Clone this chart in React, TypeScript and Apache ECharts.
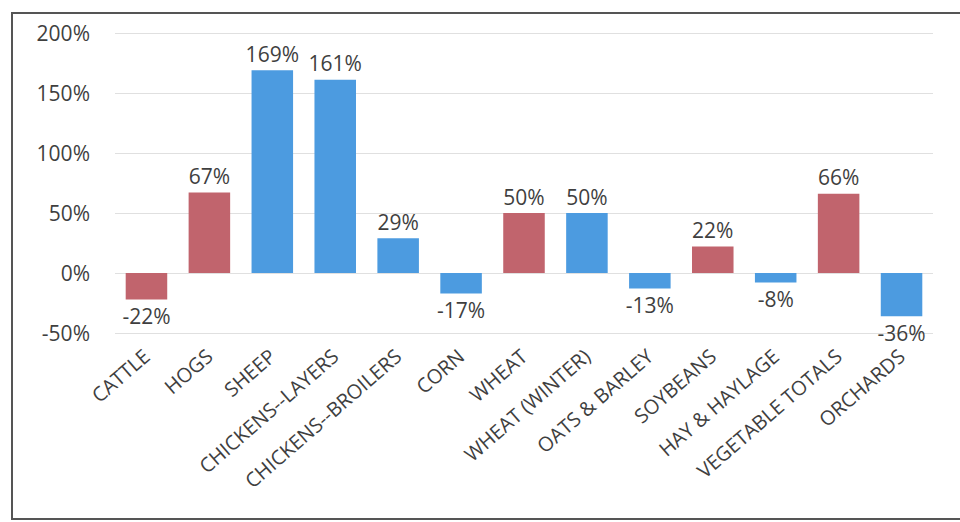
import React, { useEffect, useRef } from "react";
import * as echarts from "echarts";

const categories = [
  "CATTLE",
  "HOGS",
  "SHEEP",
  "CHICKENS--LAYERS",
  "CHICKENS--BROILERS",
  "CORN",
  "WHEAT",
  "WHEAT (WINTER)",
  "OATS & BARLEY",
  "SOYBEANS",
  "HAY & HAYLAGE",
  "VEGETABLE TOTALS",
  "ORCHARDS",
];
const values = [-22, 67, 169, 161, 29, -17, 50, 50, -13, 22, -8, 66, -36];
const groups = ["red", "red", "blue", "blue", "blue", "blue", "red", "blue", "blue", "red", "blue", "red", "blue"];
const yTicks = { min: -50, max: 200, interval: 50 };

const RED = "#c1646d";
const BLUE = "#4c9be0";
const TEXT = "#3f3f3f";
const FONT = "Open Sans";

export default function App() {
  const ref = useRef<HTMLDivElement>(null);
  useEffect(() => {
    if (!ref.current) return;
    const chart = echarts.init(ref.current, null, { renderer: "svg" });
    chart.setOption({
      animation: false,
      backgroundColor: "#ffffff",
      graphic: [
        {
          type: "rect",
          shape: { x: 12, y: 13, width: 970, height: 506 },
          style: { fill: "none", stroke: "#555", lineWidth: 2 },
          silent: true,
        },
      ],
      grid: { left: 115, right: 27, top: 33, bottom: 189, containLabel: false },
      xAxis: {
        type: "category",
        data: categories,
        position: "bottom",
        axisLine: { show: false, onZero: false },
        axisTick: { show: false },
        axisLabel: {
          rotate: 41,
          interval: 0,
          margin: 20,
          fontFamily: FONT,
          fontSize: 20,
          color: TEXT,
        },
      },
      yAxis: {
        type: "value",
        min: yTicks.min,
        max: yTicks.max,
        interval: yTicks.interval,
        axisLine: { show: false },
        axisTick: { show: false },
        splitLine: { lineStyle: { color: "#e0e0e0", width: 1 } },
        axisLabel: {
          formatter: "{value}%",
          margin: 25,
          fontFamily: FONT,
          fontSize: 21,
          color: TEXT,
        },
      },
      series: [
        {
          type: "bar",
          barCategoryGap: "34%",
          data: values.map((v, i) => ({
            value: v,
            itemStyle: { color: groups[i] === "red" ? RED : BLUE },
            label: { position: v >= 0 ? "top" : "bottom" },
          })),
          label: {
            show: true,
            formatter: "{c}%",
            fontFamily: FONT,
            fontSize: 21,
            color: TEXT,
            distance: 6,
          },
        },
      ],
    });
    return () => chart.dispose();
  }, []);
  return (
    <div
      ref={ref}
      style={{ position: "fixed", left: 0, top: 0, width: 960, height: 522 }}
    />
  );
}
